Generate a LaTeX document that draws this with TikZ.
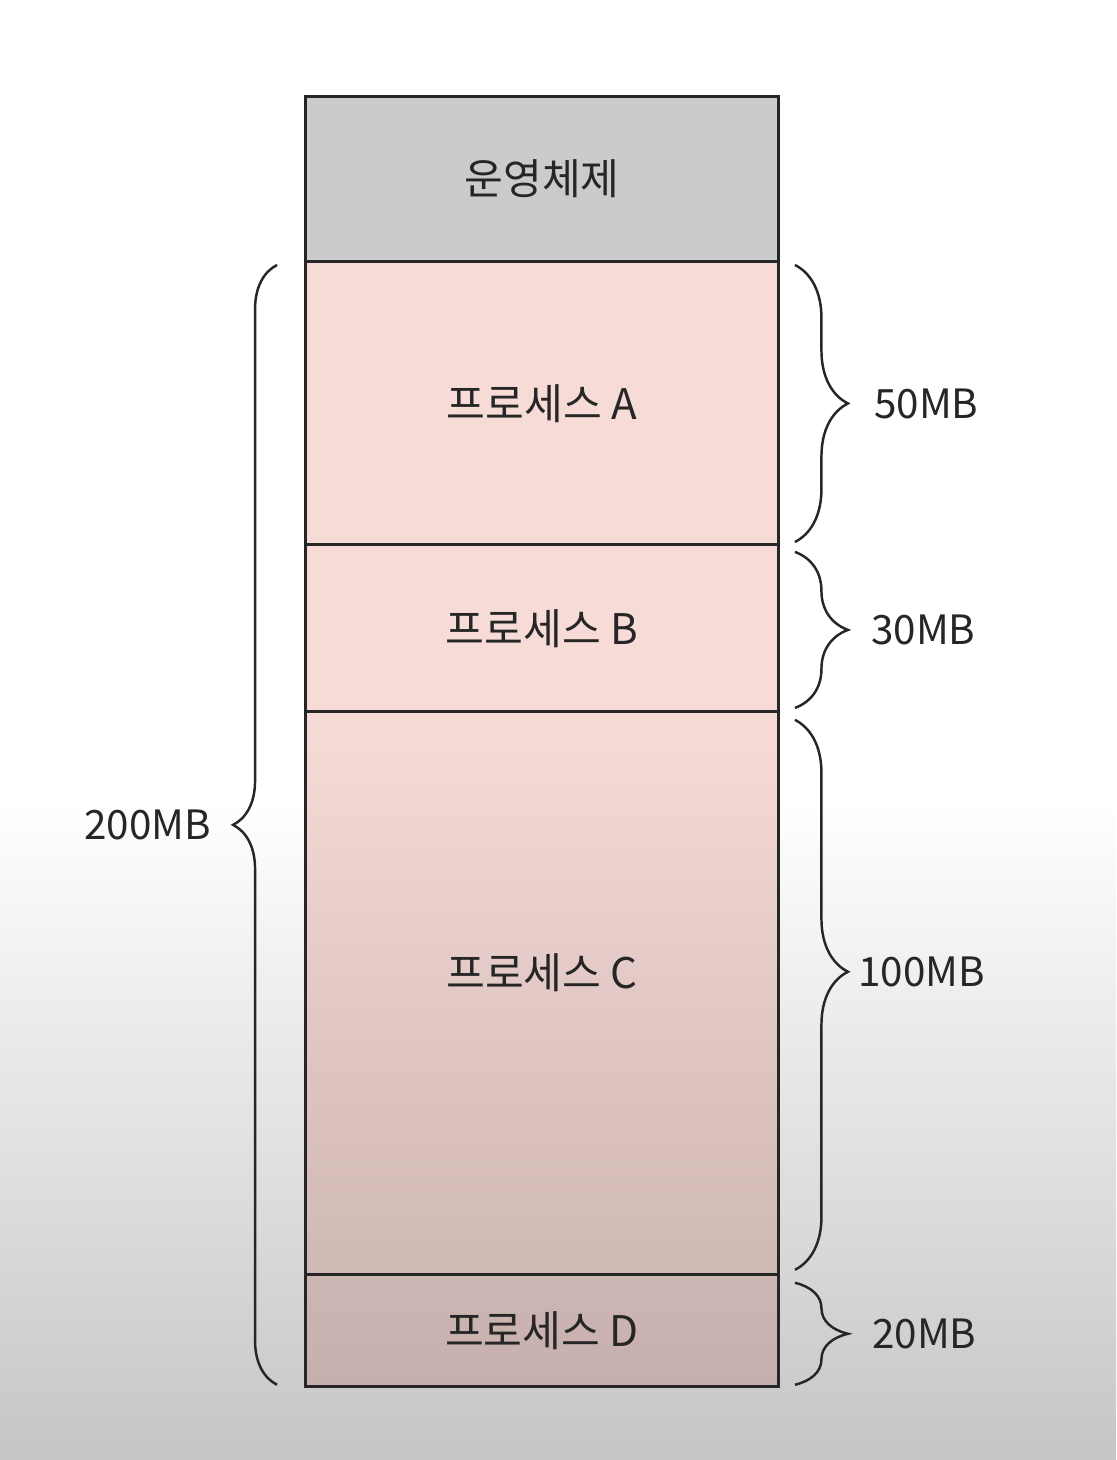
\documentclass[tikz,border=0pt]{standalone}
\usepackage{fontspec}
\newfontfamily\kr{Noto Sans CJK KR}
\usetikzlibrary{positioning,decorations.pathreplacing}
\definecolor{osgray}{HTML}{CBCBCB}
\definecolor{procpink}{HTML}{F7DBD7}
\definecolor{ink}{HTML}{262626}
\begin{document}
\begin{tikzpicture}[x=0.02cm,y=-0.02cm,
    txt/.style={font=\kr\fontsize{24}{28}\selectfont,text=ink,inner sep=0pt},
    box/.style={txt,draw=ink,line width=1.7pt,minimum width=9.48cm,outer sep=0pt},
    mb/.style={font=\kr\fontsize{23}{27}\selectfont,text=ink,inner sep=0pt},
    br/.style={draw=ink,line width=1.4pt,decorate,decoration={brace,amplitude=#1}}]
\useasboundingbox (0,0) rectangle (1116,1460);
\fill[white] (0,0) rectangle (1116,800);
\shade[top color=white,bottom color=gray!45] (0,800) rectangle (1116,1460);
% memory
\node[box,fill=osgray,minimum height=3.32cm] (os) at (542,179) {운영체제};
\node[box,fill=procpink,minimum height=5.66cm,below=0pt of os] (pa) {프로세스 A};
\node[box,fill=procpink,minimum height=3.34cm,below=0pt of pa] (pb) {프로세스 B};
\node[box,top color=procpink,bottom color=procpink!84!black,
    minimum height=11.26cm,below=0pt of pb] (pc) {};
\node[txt] (tc) at ([yshift=0.41cm]pc.center) {프로세스 C};
\node[box,top color=procpink!83!black,bottom color=procpink!80!black,
    minimum height=2.24cm,below=0pt of pc] (pd) {프로세스 D};
% sizes
\draw[br=1.06cm] ([xshift=0.32cm,yshift=-0.06cm]pa.north east)
    -- ([xshift=0.32cm,yshift=0.06cm]pa.south east)
    node[mb,midway,right=1.56cm] (sa) {50MB};
\draw[br=1.06cm] ([xshift=0.32cm,yshift=-0.14cm]pb.north east)
    -- ([xshift=0.32cm,yshift=0.08cm]pb.south east)
    node[mb,midway,right=1.5cm] (sb) {30MB};
\draw[br=1.06cm,decoration={aspect=0.458}] ([xshift=0.32cm,yshift=-0.16cm]pc.north east)
    -- ([xshift=0.32cm,yshift=0.1cm]pc.south east)
    node[mb,pos=0.458,right=1.24cm] (sc) {100MB};
\draw[br=1.06cm] ([xshift=0.32cm,yshift=-0.16cm]pd.north east)
    -- ([xshift=0.32cm,yshift=0.04cm]pd.south east)
    node[mb,midway,right=1.52cm] (sd) {20MB};
\draw[br=0.88cm] ([xshift=-0.56cm,yshift=0.04cm]pd.south west)
    -- ([xshift=-0.56cm,yshift=-0.06cm]pa.north west)
    node[mb,midway,left=1.3cm] (st) {200MB};
\end{tikzpicture}
\end{document}
